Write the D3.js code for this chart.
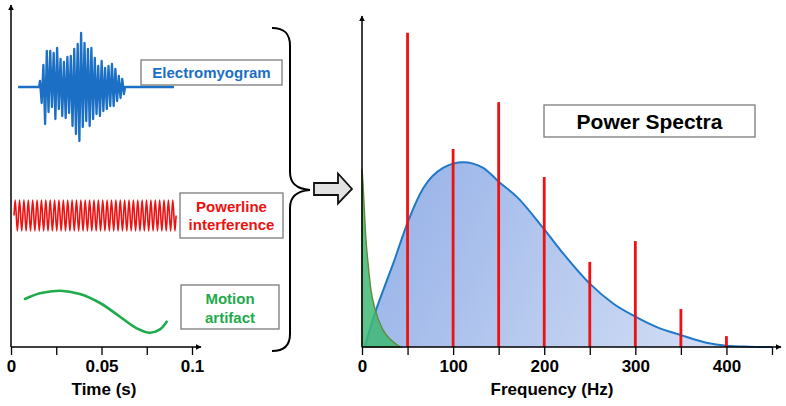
<!DOCTYPE html>
<html><head><meta charset="utf-8">
<script src="https://cdn.jsdelivr.net/npm/d3@7/dist/d3.min.js"></script>
<style>
body{margin:0;background:#fff}
svg{display:block}
text{font-family:"Liberation Sans",Arial,Helvetica,sans-serif;font-weight:bold}
</style>
</head><body>
<svg id="chart" width="786" height="406"></svg>
<script>
// ---------- data ----------
const timeTickValues = [0, 0.025, 0.05, 0.075, 0.1];
const timeTickLabels = ["0", "", "0.05", "", "0.1"];
const freqTickValues = [0, 50, 100, 150, 200, 250, 300, 350, 400, 450];
const freqTickLabels = ["0", "", "100", "", "200", "", "300", "", "400", ""];

// Electromyogram (time domain): baseline span, burst span and alternating spike extremes (a.u.)
const emgBaseline = [0.0039, 0.0901];
const emgBurst = [0.0155, 0.0630];
const emgSpikes = [6,-16,22,-37,36,-25,36,-20,34,-32,39,-22,28,-29,25,-31,30,-26,31,-39,
  38,-47,43,-54,54,-40,44,-34,38,-39,39,-32,29,-27,21,-29,26,-24,19,-22,21,-19,23,-19,18,-14,11,-11,8,-7];

// Powerline interference (time domain): one cycle shape, number of cycles, span
const powerlineCycle = [0, 1, 0, -1];
const powerlineCycles = 37;
const powerlineSpan = [0.0017, 0.0912];

// Motion artifact (time domain)
const motionTime  = [0.0077, 0.0160, 0.0271, 0.0381, 0.0492, 0.0602, 0.0695, 0.0768, 0.0823, 0.0860];
const motionValue = [13, 18.7, 21.3, 18, 9, -4.7, -16.3, -20.7, -17.3, -9.7];

// Power spectra
const emgSpecFreq  = [3, 14, 23, 34, 51, 67, 89, 111, 133, 150, 170, 199, 218, 250, 276, 300, 323, 350, 378, 400, 425, 450];
const emgSpecPower = [0, 10.1, 17.0, 25.1, 38.4, 48, 54.3, 56, 54.3, 50.1, 45.5, 36.0, 29.3, 19.2, 13.1, 9.2, 6.1, 3.6, 1.3, 0.4, 0.1, 0];
const motionSpecFreq  = [0, 1, 2.5, 4, 6.6, 10, 14, 23, 32, 42];
const motionSpecPower = [54, 50, 42, 34, 25.5, 17, 11.8, 5.2, 2.1, 0];
const harmonicFreq  = [50, 100, 150, 200, 250, 300, 350, 400];
const harmonicPower = [95.2, 60.0, 74.2, 51.5, 25.8, 32.1, 11.5, 3.3];

// ---------- drawing ----------
const C = {blue:"#1b6fc4", red:"#ee1111", green:"#1fab4c", box:"#7a7a7a"};
const svg = d3.select("#chart");
const defs = svg.append("defs");
defs.append("marker").attr("id","arr").attr("viewBox","0 0 10 10").attr("refX",9).attr("refY",5)
  .attr("markerWidth",6).attr("markerHeight",6).attr("markerUnits","userSpaceOnUse").attr("orient","auto")
  .append("path").attr("d","M0,0L10,5L0,10z").attr("fill","#000");
const grad = defs.append("linearGradient").attr("id","bg").attr("gradientUnits","userSpaceOnUse")
  .attr("x1",380).attr("y1",160).attr("x2",760).attr("y2",347);
grad.append("stop").attr("offset",0).attr("stop-color","#95b1e8");
grad.append("stop").attr("offset",1).attr("stop-color","#dae3f6");

// ----- left panel -----
const tX = d3.scaleLinear().domain([0, 0.1]).range([11, 192]);
const left = svg.append("g");

// EMG
const emgY = d3.scaleLinear().domain([-60, 60]).range([147, 27]);
const spikeT = d3.range(emgSpikes.length).map(i => 0.0160 + i * (0.0624 - 0.0160) / (emgSpikes.length - 1));
const emgPts = [[emgBaseline[0],0],[emgBurst[0],0]]
  .concat(emgSpikes.map((v,i)=>[spikeT[i], v]))
  .concat([[emgBurst[1],0],[emgBaseline[1],0]]);
left.append("path").attr("d", d3.line().x(d=>tX(d[0])).y(d=>emgY(d[1]))(emgPts))
  .attr("fill","none").attr("stroke",C.blue).attr("stroke-width",2.3).attr("stroke-linejoin","round");

// Powerline
const plY = d3.scaleLinear().domain([-1, 1]).range([231, 200]);
const nPl = powerlineCycles * powerlineCycle.length;
const plPts = d3.range(nPl + 1).map(k => [
  powerlineSpan[0] + k * (powerlineSpan[1] - powerlineSpan[0]) / nPl,
  powerlineCycle[k % powerlineCycle.length]]);
left.append("path").attr("d", d3.line().x(d=>tX(d[0])).y(d=>plY(d[1])).curve(d3.curveNatural)(plPts))
  .attr("fill","none").attr("stroke",C.red).attr("stroke-width",1.6);

// Motion artifact
const mY = d3.scaleLinear().domain([-30, 30]).range([342, 282]);
left.append("path").attr("d", d3.line().x((d,i)=>tX(motionTime[i])).y(d=>mY(d)).curve(d3.curveCatmullRom)(motionValue))
  .attr("fill","none").attr("stroke",C.green).attr("stroke-width",2.6).attr("stroke-linecap","round");

// Left axes
left.append("line").attr("x1",11).attr("y1",347).attr("x2",11).attr("y2",5)
  .attr("stroke","#000").attr("stroke-width",1.5).attr("marker-end","url(#arr)");
left.append("line").attr("x1",11).attr("y1",347).attr("x2",201).attr("y2",347)
  .attr("stroke","#000").attr("stroke-width",1.5).attr("marker-end","url(#arr)");
const tAxis = left.append("g").attr("transform","translate(0,347)")
  .call(d3.axisBottom(tX).tickValues(timeTickValues).tickSize(8).tickSizeOuter(0).tickPadding(5)
    .tickFormat((d,i)=>timeTickLabels[i]));
tAxis.select(".domain").remove();
tAxis.selectAll("line").attr("stroke","#000").attr("stroke-width",1.3);
tAxis.selectAll("text").attr("font-size",17).attr("fill","#000")
  .attr("font-family","'Liberation Sans',Arial,sans-serif").attr("font-weight","bold");
left.append("text").attr("x",104).attr("y",395).attr("text-anchor","middle").attr("font-size",17).text("Time (s)");

// Label boxes
function box(x,y,w,h){svg.append("rect").attr("x",x).attr("y",y).attr("width",w).attr("height",h)
  .attr("fill","#fff").attr("stroke",C.box).attr("stroke-width",1.3);}
box(141,60,141,25);
svg.append("text").attr("x",211.5).attr("y",78).attr("text-anchor","middle").attr("font-size",15).attr("fill",C.blue).text("Electromyogram");
box(180,193,103,45);
svg.append("text").attr("x",231.5).attr("y",211.5).attr("text-anchor","middle").attr("font-size",15).attr("fill",C.red).text("Powerline");
svg.append("text").attr("x",231.5).attr("y",229.5).attr("text-anchor","middle").attr("font-size",15).attr("fill",C.red).text("interference");
box(181,285,98,44);
svg.append("text").attr("x",230).attr("y",304).attr("text-anchor","middle").attr("font-size",15).attr("fill",C.green).text("Motion");
svg.append("text").attr("x",230).attr("y",322.5).attr("text-anchor","middle").attr("font-size",15).attr("fill",C.green).text("artifact");

// Brace
svg.append("path").attr("d",
  "M272,28 C284,28 290,33 290,46 L290,172 C290,184 297,189 310,190 C297,191 290,196 290,208 L290,334 C290,346 284,351 272,351")
  .attr("fill","none").attr("stroke","#000").attr("stroke-width",2);

// Block arrow
svg.append("path").attr("d","M314,183 L338,183 L338,173.5 L352,189 L338,203.5 L338,195 L314,195 Z")
  .attr("fill","#e2e2e2").attr("stroke","#111").attr("stroke-width",1.8).attr("stroke-linejoin","miter");

// ----- right panel -----
const fX = d3.scaleLinear().domain([0, 450]).range([362, 772]);
const pY = d3.scaleLinear().domain([0, 100]).range([347, 17]);
const right = svg.append("g");

right.append("path")
  .attr("d", d3.area().x((d,i)=>fX(emgSpecFreq[i])).y0(pY(0)).y1(d=>pY(d)).curve(d3.curveMonotoneX)(emgSpecPower))
  .attr("fill","url(#bg)");
right.append("path")
  .attr("d", d3.line().x((d,i)=>fX(emgSpecFreq[i])).y(d=>pY(d)).curve(d3.curveMonotoneX)(emgSpecPower))
  .attr("fill","none").attr("stroke","#1f78c8").attr("stroke-width",2);

right.append("path")
  .attr("d", d3.area().x((d,i)=>fX(motionSpecFreq[i])).y0(pY(0)).y1(d=>pY(d)).curve(d3.curveMonotoneX)(motionSpecPower))
  .attr("fill","#3fb874").attr("fill-opacity",0.85).attr("stroke","#5e8c3a").attr("stroke-width",1.4);

right.selectAll("line.h").data(harmonicFreq).join("line").attr("class","h")
  .attr("x1",d=>fX(d)).attr("x2",d=>fX(d)).attr("y1",pY(0)).attr("y2",(d,i)=>pY(harmonicPower[i]))
  .attr("stroke",C.red).attr("stroke-width",2.8);

right.append("line").attr("x1",362).attr("y1",347).attr("x2",362).attr("y2",16)
  .attr("stroke","#000").attr("stroke-width",1.5).attr("marker-end","url(#arr)");
right.append("line").attr("x1",362).attr("y1",347).attr("x2",781).attr("y2",347)
  .attr("stroke","#000").attr("stroke-width",1.5).attr("marker-end","url(#arr)");
const fAxis = right.append("g").attr("transform","translate(0,347)")
  .call(d3.axisBottom(fX).tickValues(freqTickValues).tickSize(8).tickSizeOuter(0).tickPadding(5)
    .tickFormat((d,i)=>freqTickLabels[i]));
fAxis.select(".domain").remove();
fAxis.selectAll("line").attr("stroke","#000").attr("stroke-width",1.3);
fAxis.selectAll("text").attr("font-size",17).attr("fill","#000")
  .attr("font-family","'Liberation Sans',Arial,sans-serif").attr("font-weight","bold");
right.append("text").attr("x",552).attr("y",395).attr("text-anchor","middle").attr("font-size",17).text("Frequency (Hz)");

// Title box
box(544,105,211,32);
svg.append("text").attr("x",649.5).attr("y",128.5).attr("text-anchor","middle").attr("font-size",21).attr("fill","#000").text("Power Spectra");
</script>
</body></html>
